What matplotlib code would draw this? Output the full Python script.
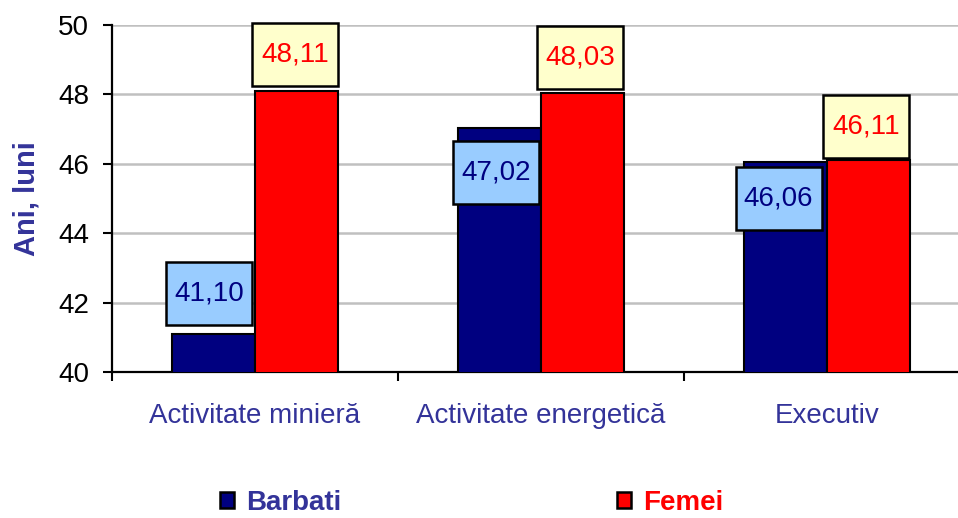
"""Bar chart: Ani, luni by activity, Barbati vs Femei."""

import matplotlib
matplotlib.use("Agg")
import matplotlib.pyplot as plt
import matplotlib.transforms as mtransforms
import numpy as np
from matplotlib.patches import Patch, Rectangle

categories = ["Activitate minieră", "Activitate energetică", "Executiv"]
barbati = [41.10, 47.02, 46.06]
femei = [48.11, 48.03, 46.11]
series_names = ["Barbati", "Femei"]
y_ticks = [40, 42, 44, 46, 48, 50]

plt.rcParams["font.family"] = ["Liberation Sans", "DejaVu Sans"]

NAVY = "#000080"
RED = "#FF0000"
LABEL_BLUE = "#333399"

fig = plt.figure(figsize=(9.58, 5.18), dpi=100)
# plot area runs a little past the right edge of the image, like the original
ax = fig.add_axes([0.1169, 0.2819, 0.8956, 0.6698])

x = np.arange(len(categories))
width = 0.29
bars_b = ax.bar(x - width / 2, barbati, width, color=NAVY, edgecolor="black",
                linewidth=1.5, zorder=3)
bars_f = ax.bar(x + width / 2, femei, width, color=RED, edgecolor="black",
                linewidth=1.5, zorder=3)

# label box offsets from bar top, in inches (dx, dy), Excel-like placement
offs_b = [(-0.045, 0.40), (-0.035, -0.445), (-0.07, -0.37)]
offs_f = [(-0.015, 0.356), (-0.02, 0.36), (-0.02, 0.33)]
BOX_W, BOX_H = 0.86, 0.63


def _label(bar, value, off, fc, tc):
    xc = bar.get_x() + bar.get_width() / 2
    trans = fig.dpi_scale_trans + mtransforms.ScaledTranslation(xc, value, ax.transData)
    dx, dy = off
    ax.add_artist(Rectangle((dx - BOX_W / 2, dy - BOX_H / 2), BOX_W, BOX_H,
                            transform=trans, facecolor=fc, edgecolor="black",
                            linewidth=1.8, zorder=5, clip_on=False))
    ax.text(dx, dy, f"{value:.2f}".replace(".", ","), transform=trans,
            ha="center", va="center", fontsize=20, color=tc, zorder=6)


for bar, v, off in zip(bars_b, barbati, offs_b):
    _label(bar, v, off, "#99CCFF", NAVY)
for bar, v, off in zip(bars_f, femei, offs_f):
    _label(bar, v, off, "#FFFFCC", RED)

ax.set_xlim(-0.5, len(categories) - 0.5)
ax.set_ylim(40, 50)
ax.set_yticks(y_ticks)
ax.set_yticklabels([str(t) for t in y_ticks], fontsize=20)
ax.set_xticks(x)
ax.set_xticklabels(categories, fontsize=20, color=LABEL_BLUE)
ax.tick_params(axis="x", which="major", length=0, pad=22.5)
ax.set_xticks(np.arange(-0.5, len(categories) - 0.5, 1.0), minor=True)
ax.tick_params(axis="x", which="minor", length=6.5, width=1.5, direction="out")
ax.tick_params(axis="y", length=6.5, width=1.5, direction="out", pad=10)

ax.grid(axis="y", color="#C0C0C0", linewidth=1.8, zorder=0)
ax.set_axisbelow(True)
for side in ("top", "right"):
    ax.spines[side].set_visible(False)
for side in ("left", "bottom"):
    ax.spines[side].set_linewidth(1.6)

ax.set_ylabel("Ani, luni", fontsize=21, fontweight="bold", color=LABEL_BLUE, labelpad=13)

handles = [Patch(facecolor=NAVY, edgecolor="black", linewidth=1.8),
           Patch(facecolor=RED, edgecolor="black", linewidth=1.8)]
leg = fig.legend(handles, series_names, loc="center left",
                 bbox_to_anchor=(220 / 958, 1 - 503 / 518), ncol=2, frameon=False,
                 borderpad=0, borderaxespad=0, columnspacing=9.9,
                 handlelength=0.5, handleheight=0.5, handletextpad=0.45,
                 prop={"size": 20, "weight": "bold"})
for txt, col in zip(leg.get_texts(), [LABEL_BLUE, RED]):
    txt.set_color(col)

fig.savefig("out.png", dpi=100)
